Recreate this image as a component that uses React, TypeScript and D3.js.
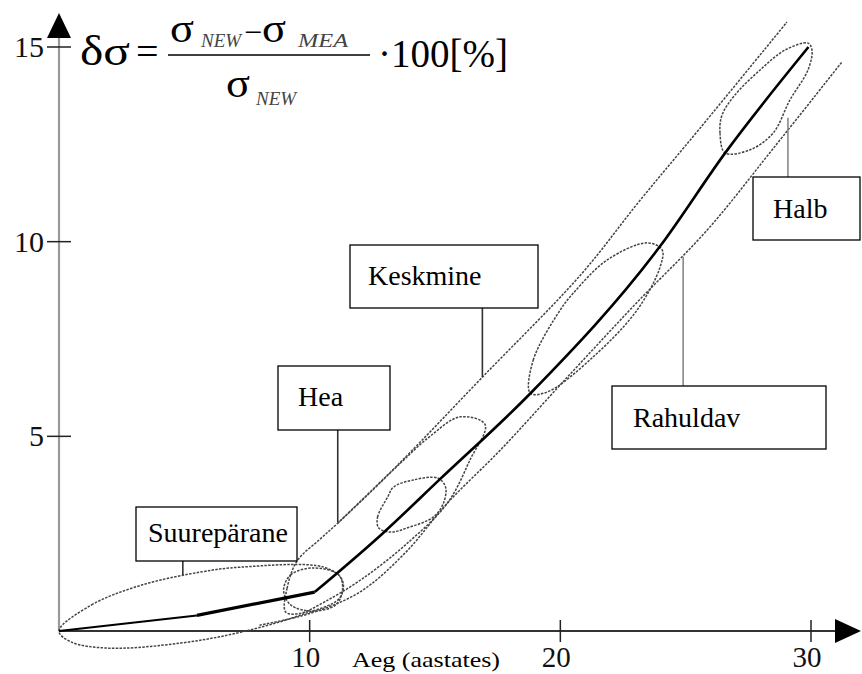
import React from 'react'
import * as d3 from 'd3'

// measured curve: age (years) vs δσ (%)
const ageX = [0, 5.5, 10.2, 12.9, 15.2, 18.8, 24, 26.6, 29.9]
const deltaSigma = [0, 0.4, 1.0, 2.5, 3.9, 6.1, 9.9, 12.3, 15.0]

const xTicks = [10, 20, 30]
const yTicks = [5, 10, 15]

const classNames = ['Suurepärane', 'Hea', 'Keskmine', 'Rahuldav', 'Halb']
// where each leader line touches its zone outline (age, δσ)
const leaderAge = [4.94, 11.12, 16.89, 24.9, 29.08]
const leaderDelta = [1.44, 2.8, 6.52, 9.61, 13.18]

// dashed zone outlines, [age, δσ]
const zoneSuureparane = [[0, 0], [1.3, 0.67], [3.3, 1.18], [5.7, 1.52], [7.25, 1.64], [10.56, 1.64], [11.3, 1.31], [11.2, 0.85], [9.64, 0.41], [7.25, -0.03], [4.86, -0.31], [1.95, -0.44], [0.48, -0.28]]
const zoneKink = [[8.96, 1.05], [9.24, 1.44], [10.12, 1.62], [11.16, 1.44], [11.31, 1.05], [11.04, 0.67], [10.12, 0.51], [9.24, 0.67]]
const zoneHea = [[9.04, 0.49], [9.1, 1.1], [9.5, 1.8], [10.4, 2.35], [11.12, 2.77], [12.4, 3.55], [13.6, 4.3], [14.8, 5.0], [16.0, 5.5], [17.0, 5.3], [16.4, 4.4], [15.5, 3.29], [13.8, 2.2], [12.03, 1.31], [10.6, 0.75], [9.6, 0.45]]
const zoneLens13 = [[12.75, 2.65], [12.71, 2.93], [13.11, 3.44], [13.35, 3.7], [14.14, 3.88], [15.1, 3.93], [15.42, 3.7], [15.34, 3.29], [14.94, 2.93], [13.9, 2.65], [13.23, 2.54]]
const zoneLens19 = [[18.8, 6.11], [18.92, 6.96], [20.0, 8.25], [20.52, 8.68], [21.87, 9.53], [23.47, 9.97], [24.06, 9.79], [23.98, 9.35], [23.07, 8.25], [21.31, 7.04], [19.48, 6.14]]
const zoneHalb = [[26.57, 12.28], [26.37, 12.79], [26.45, 13.25], [26.97, 13.77], [27.97, 14.41], [28.96, 14.92], [29.88, 15.1], [30.04, 14.92], [29.88, 14.41], [29.16, 13.64], [28.49, 12.79], [27.57, 12.36]]
const bandUpper = [[11.12, 2.77], [13.63, 4.34], [16.89, 6.52], [20.8, 9.14], [23.19, 11.07], [25.58, 12.92], [29.04, 15.64]]
const bandLower = [[8.0, 0.15], [10.0, 0.45], [12.0, 1.0], [13.8, 2.0], [15.5, 3.29], [17.61, 4.65], [20.28, 6.52], [23.0, 8.4], [25.86, 10.3], [28.5, 12.4], [31.24, 14.62]]

// label box layout in px: left, top, width, height, text dx, text dy
const boxLayout = [
  [136, 507, 161, 54, 12, 35],
  [278, 366, 112, 64, 20, 40],
  [350, 245, 188, 63, 18, 40],
  [612, 386, 214, 63, 21, 41],
  [753, 177, 107, 63, 20, 41],
]

const W = 862
const H = 674
const serif = '"Liberation Serif", "Times New Roman", serif'

export default function App() {
  const x = d3.scaleLinear().domain([0, 30]).range([59, 811])
  const y = d3.scaleLinear().domain([0, 15]).range([631, 47])

  const pts = ageX.map((a, i) => [a, deltaSigma[i]])
  const lin = d3.line().x(d => x(d[0])).y(d => y(d[1]))
  const smooth = d3.line().x(d => x(d[0])).y(d => y(d[1])).curve(d3.curveMonotoneX)
  const closed = d3.line().x(d => x(d[0])).y(d => y(d[1])).curve(d3.curveCatmullRomClosed.alpha(0.5))
  const open = d3.line().x(d => x(d[0])).y(d => y(d[1])).curve(d3.curveCatmullRom.alpha(0.5))

  const zones = [zoneSuureparane, zoneKink, zoneHea, zoneLens13, zoneLens19, zoneHalb]
  const bands = [bandUpper, bandLower]
  const dash = { fill: 'none', stroke: '#444', strokeWidth: 1.5, strokeDasharray: '2.5 1.3' }

  const x0 = x(0)
  const y0 = y(0)

  return (
    <svg width={W} height={H} style={{ position: 'absolute', left: 0, top: 0, background: '#fff', fontFamily: serif }}>
      {/* axes */}
      <line x1={x0} y1={y0} x2={x0} y2={30} stroke="#999" strokeWidth={2.2} />
      <path d={`M${x0},13 L${x0 - 12},38 L${x0 + 12},38 Z`} fill="#000" />
      <line x1={x0} y1={y0} x2={840} y2={y0} stroke="#333" strokeWidth={2} />
      <path d={`M861,${y0} L835,${y0 - 12} L835,${y0 + 12} Z`} fill="#000" />

      {yTicks.map(t => (
        <g key={t}>
          <line x1={x0 - 12} x2={x0 + 12} y1={y(t)} y2={y(t)} stroke="#222" strokeWidth={1.5} />
          <text x={x0 - 15} y={y(t) + 10} textAnchor="end" fontSize={30} fill="#111">{t}</text>
        </g>
      ))}
      {xTicks.map(t => (
        <g key={t}>
          <line x1={x(t)} x2={x(t)} y1={y0 - 11} y2={y0 + 11} stroke="#222" strokeWidth={1.5} />
          <text x={x(t) - 4} y={667} textAnchor="middle" fontSize={29} fill="#111">{t}</text>
        </g>
      ))}
      <text x={352} y={667} fontSize={22} textLength={148} lengthAdjust="spacingAndGlyphs" fill="#000">Aeg (aastates)</text>

      {/* zone outlines */}
      {zones.map((z, i) => <path key={'z' + i} d={closed(z)} {...dash} />)}
      {bands.map((b, i) => <path key={'b' + i} d={open(b)} {...dash} />)}

      {/* measured curve */}
      <path d={lin(pts.slice(0, 2))} fill="none" stroke="#000" strokeWidth={2} />
      <path d={lin(pts.slice(1, 3))} fill="none" stroke="#000" strokeWidth={3.2} />
      <path d={smooth(pts.slice(2))} fill="none" stroke="#000" strokeWidth={2.6} />

      {/* class labels */}
      {classNames.map((name, i) => {
        const [bx, by, bw, bh, tx, ty] = boxLayout[i]
        const lx = x(leaderAge[i])
        const ly = y(leaderDelta[i])
        const fromY = ly > by ? by + bh : by
        return (
          <g key={name}>
            <line x1={lx} x2={lx} y1={fromY} y2={ly} stroke={i >= 3 ? '#888' : '#333'} strokeWidth={1.6} />
            <rect x={bx} y={by} width={bw} height={bh} fill="#fff" stroke="#000" strokeWidth={1.3} />
            <text x={bx + tx} y={by + ty} fontSize={28} fill="#000">{name}</text>
          </g>
        )
      })}

      {/* formula */}
      <g fill="#000">
        <text x={80} y={65} fontSize={42} textLength={50} lengthAdjust="spacingAndGlyphs">δσ</text>
        <text x={136} y={65} fontSize={40}>=</text>
        <text x={170} y={42} fontSize={40} textLength={24} lengthAdjust="spacingAndGlyphs">σ</text>
        <text x={201} y={47} fontSize={19} fontStyle="italic" fill="#444">NEW</text>
        <text x={244} y={43} fontSize={32}>−</text>
        <text x={262} y={42} fontSize={40} textLength={24} lengthAdjust="spacingAndGlyphs">σ</text>
        <text x={298} y={47} fontSize={19} fontStyle="italic" fill="#444" textLength={50} lengthAdjust="spacingAndGlyphs">MEA</text>
        <line x1={168} x2={370} y1={55} y2={55} stroke="#000" strokeWidth={1.6} />
        <text x={226} y={97} fontSize={40} textLength={24} lengthAdjust="spacingAndGlyphs">σ</text>
        <text x={256} y={105} fontSize={19} fontStyle="italic" fill="#444">NEW</text>
        <text x={378} y={67} fontSize={40} textLength={130} lengthAdjust="spacingAndGlyphs">·100[%]</text>
      </g>
    </svg>
  )
}
